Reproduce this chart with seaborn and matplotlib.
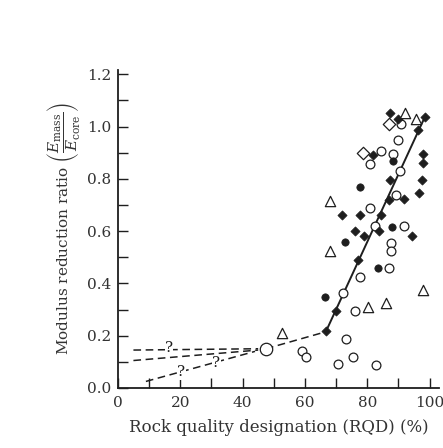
import seaborn as sns
import numpy as np
import pandas as pd
from matplotlib import pyplot as plt
from matplotlib.ticker import MultipleLocator

# point groups (RQD %, Emass/Ecore)
open_circle_x = [90.9, 89.9, 84.5, 88.2, 80.8, 90.4, 89.1, 80.8, 82.4, 91.7, 87.7,
                 87.5, 87.0, 77.8, 72.2, 75.9, 73.1, 58.9, 60.3, 75.4, 70.6, 82.9]
open_circle_y = [1.01, 0.95, 0.905, 0.896, 0.858, 0.83, 0.738, 0.687, 0.62, 0.618, 0.556,
                 0.524, 0.457, 0.424, 0.363, 0.296, 0.186, 0.14, 0.12, 0.117, 0.09, 0.088]

big_circle_x = [47.5]
big_circle_y = [0.15]

filled_circle_x = [88.2, 77.8, 88.0, 72.8, 83.4, 66.3]
filled_circle_y = [0.867, 0.77, 0.616, 0.56, 0.457, 0.347]

filled_diamond_x = [87.4, 89.9, 98.4, 96.3, 81.8, 97.9, 97.9, 87.2, 97.6, 96.6, 86.9,
                    91.9, 72.0, 77.8, 84.5, 83.8, 75.9, 78.8, 94.4, 77.0, 70.1, 66.7]
filled_diamond_y = [1.05, 1.03, 1.035, 0.985, 0.89, 0.894, 0.862, 0.797, 0.797, 0.747, 0.719,
                    0.724, 0.661, 0.66, 0.66, 0.60, 0.60, 0.58, 0.583, 0.49, 0.294, 0.219]

open_triangle_x = [92.0, 95.7, 68.2, 68.2, 97.9, 85.9, 80.2, 52.8]
open_triangle_y = [1.05, 1.03, 0.717, 0.524, 0.374, 0.324, 0.31, 0.21]

open_diamond_x = [78.6, 87.0]
open_diamond_y = [0.90, 1.01]

# trend lines
solid_x = [66.7, 98.4]
solid_y = [0.215, 1.035]
dash_main_x = [47.5, 66.7]
dash_main_y = [0.15, 0.215]
dash_top_x = [5.0, 45.0]
dash_top_y = [0.145, 0.15]
dash_mid_x = [5.0, 45.0]
dash_mid_y = [0.105, 0.145]
dash_low_x = [9.0, 44.0]
dash_low_y = [0.025, 0.14]

qmark_x = [16.4, 31.6, 20.4]
qmark_y = [0.154, 0.097, 0.06]

sns.set_style("ticks")
plt.rcParams['font.family'] = ['DejaVu Serif']
plt.rcParams['mathtext.fontset'] = 'dejavuserif'

ink = '#1e1e1e'
txt = '#333333'
fig = plt.figure(figsize=(4.43, 4.48), dpi=100)
ax = fig.add_axes([0.266, 0.134, 0.725, 0.709])

dash = (0, (5, 3))
for lx, ly in [(dash_top_x, dash_top_y), (dash_mid_x, dash_mid_y),
               (dash_low_x, dash_low_y), (dash_main_x, dash_main_y)]:
    sns.lineplot(x=lx, y=ly, ax=ax, color=ink, linewidth=1.1, linestyle=dash, sort=False)
sns.lineplot(x=solid_x, y=solid_y, ax=ax, color=ink, linewidth=1.4, sort=False)

for qx, qy in zip(qmark_x, qmark_y):
    ax.text(qx, qy, '?', fontsize=11, color=ink, ha='center', va='center',
            bbox=dict(facecolor='white', edgecolor='none', pad=0.2))

sns.scatterplot(x=open_circle_x, y=open_circle_y, ax=ax, marker='o', s=40,
                facecolor='white', edgecolor=ink, linewidth=0.9, zorder=3)
sns.scatterplot(x=big_circle_x, y=big_circle_y, ax=ax, marker='o', s=80,
                facecolor='white', edgecolor=ink, linewidth=0.9, zorder=3)
sns.scatterplot(x=filled_circle_x, y=filled_circle_y, ax=ax, marker='o', s=28,
                color=ink, edgecolor=ink, linewidth=0.5, zorder=3)
sns.scatterplot(x=filled_diamond_x, y=filled_diamond_y, ax=ax, marker='D', s=22,
                color=ink, edgecolor=ink, linewidth=0.5, zorder=3)
sns.scatterplot(x=open_triangle_x, y=open_triangle_y, ax=ax, marker='^', s=55,
                facecolor='white', edgecolor=ink, linewidth=0.9, zorder=3)
sns.scatterplot(x=open_diamond_x, y=open_diamond_y, ax=ax, marker='D', s=40,
                facecolor='white', edgecolor=ink, linewidth=0.9, zorder=3)

ax.set_xlim(0, 103)
ax.set_ylim(0, 1.215)
ax.xaxis.set_major_locator(MultipleLocator(20))
ax.xaxis.set_minor_locator(MultipleLocator(10))
ax.yaxis.set_major_locator(MultipleLocator(0.2))
ax.yaxis.set_minor_locator(MultipleLocator(0.1))
ax.yaxis.set_major_formatter(lambda v, p: f'{v:.1f}')
ax.tick_params(which='both', direction='in', color=ink, width=1.0, length=7,
               labelsize=11, labelcolor=txt)
ax.tick_params(axis='x', pad=6)
ax.tick_params(axis='y', pad=5)
for side in ['top', 'right']:
    ax.spines[side].set_visible(False)
for side in ['left', 'bottom']:
    ax.spines[side].set_color(ink)
    ax.spines[side].set_linewidth(1.3)

ax.set_xlabel('Rock quality designation (RQD) (%)', fontsize=12, color=txt, labelpad=6)
ax.set_ylabel(r'Modulus reduction ratio $\left(\dfrac{E_{\rm mass}}{E_{\rm core}}\right)$',
              fontsize=11, color=txt, labelpad=3)

plt.savefig('out.png', dpi=100)
plt.close()
